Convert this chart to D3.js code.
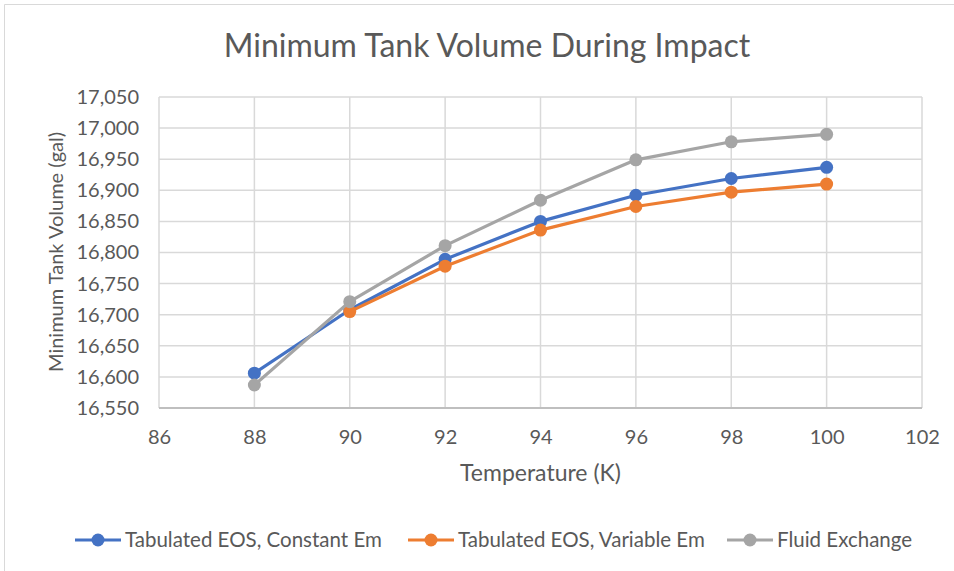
<!DOCTYPE html>
<html>
<head>
<meta charset="utf-8">
<script src="https://cdn.jsdelivr.net/npm/d3@7"></script>
<style>
  body { margin: 0; background: #fff; }
  svg text { font-family: Lato, "Open Sans", sans-serif; fill: #595959; }
  .grid line { stroke: #d9d9d9; stroke-width: 1.5; }
  .axis .domain { display: none; }
  .axis line { display: none; }
</style>
</head>
<body>
<svg id="chart" width="954" height="571"></svg>
<script>
// data
const temps = [88, 90, 92, 94, 96, 98, 100];
const constantEm = [16606, 16708, 16789, 16850, 16892, 16919, 16937];
const variableEm = [null, 16705, 16778, 16836, 16874, 16897, 16910];
const fluidExchange = [16587, 16721, 16811, 16884, 16949, 16978, 16990];
const seriesNames = ["Tabulated EOS, Constant Em", "Tabulated EOS, Variable Em", "Fluid Exchange"];
const seriesColors = ["#4472c4", "#ed7d31", "#a5a5a5"];
const xTicks = [86, 88, 90, 92, 94, 96, 98, 100, 102];
const yTicks = [16550, 16600, 16650, 16700, 16750, 16800, 16850, 16900, 16950, 17000, 17050];

const series = [constantEm, variableEm, fluidExchange].map((vals, i) => ({
  name: seriesNames[i],
  color: seriesColors[i],
  data: temps.map((t, j) => ({ x: t, y: vals[j] })).filter(d => d.y != null)
}));

const W = 954, H = 571;
const padding = { top: 97, right: 32, bottom: 163, left: 159 };
const innerWidth = W - padding.left - padding.right;
const innerHeight = H - padding.top - padding.bottom;

const svg = d3.select("#chart");

// chart frame
svg.append("path")
  .attr("d", `M4.5,${H}V4.5H${W}`)
  .attr("fill", "none").attr("stroke", "#d9d9d9").attr("stroke-width", 1);

svg.append("text")
  .attr("x", 487).attr("y", 57)
  .attr("text-anchor", "middle")
  .style("font-size", "32px")
  .text("Minimum Tank Volume During Impact");

const x = d3.scaleLinear().domain([86, 102]).range([0, innerWidth]);
const y = d3.scaleLinear().domain([16550, 17050]).range([innerHeight, 0]);

const g = svg.append("g").attr("transform", `translate(${padding.left},${padding.top})`);

// gridlines
g.append("g").attr("class", "grid")
  .selectAll("line.h").data(yTicks).enter().append("line")
  .attr("x1", 0).attr("x2", innerWidth)
  .attr("y1", d => y(d)).attr("y2", d => y(d));
g.append("g").attr("class", "grid")
  .selectAll("line.v").data(xTicks).enter().append("line")
  .attr("y1", 0).attr("y2", innerHeight)
  .attr("x1", d => x(d)).attr("x2", d => x(d));
g.append("line")
  .attr("x1", 0).attr("x2", innerWidth)
  .attr("y1", innerHeight).attr("y2", innerHeight)
  .attr("stroke", "#bfbfbf").attr("stroke-width", 2);

// axes
g.append("g").attr("class", "axis")
  .attr("transform", `translate(0,${innerHeight})`)
  .call(d3.axisBottom(x).tickValues(xTicks).tickSize(0).tickPadding(22))
  .selectAll("text").style("font-size", "20px");

g.append("g").attr("class", "axis")
  .call(d3.axisLeft(y).tickValues(yTicks).tickSize(0).tickPadding(20).tickFormat(d3.format(",")))
  .selectAll("text").style("font-size", "20px");

svg.append("text")
  .attr("x", padding.left + x(94)).attr("y", 481)
  .attr("text-anchor", "middle")
  .style("font-size", "23px")
  .text("Temperature (K)");

svg.append("text")
  .attr("transform", `translate(63,252)rotate(-90)`)
  .attr("text-anchor", "middle")
  .style("font-size", "20px")
  .text("Minimum Tank Volume (gal)");

// lines and markers
const line = d3.line().x(d => x(d.x)).y(d => y(d.y));
const sg = g.selectAll(".series").data(series).enter().append("g").attr("class", "series");
sg.append("path")
  .attr("d", d => line(d.data))
  .attr("fill", "none")
  .attr("stroke", d => d.color)
  .attr("stroke-width", 3.2)
  .attr("stroke-linejoin", "round");
sg.each(function (s) {
  d3.select(this).selectAll("circle").data(s.data).enter().append("circle")
    .attr("cx", d => x(d.x)).attr("cy", d => y(d.y))
    .attr("r", 6.5).attr("fill", s.color);
});

// legend
const legendX = [75, 408, 727];
const lg = svg.append("g").selectAll("g").data(series).enter().append("g")
  .attr("transform", (d, i) => `translate(${legendX[i]},540)`);
lg.append("line").attr("x1", 0).attr("x2", 46).attr("y1", 0).attr("y2", 0)
  .attr("stroke", d => d.color).attr("stroke-width", 3.2);
lg.append("circle").attr("cx", 23).attr("cy", 0).attr("r", 6.5).attr("fill", d => d.color);
lg.append("text").attr("x", 50).attr("y", 7)
  .style("font-size", "20.5px")
  .text(d => d.name);
</script>
</body>
</html>
